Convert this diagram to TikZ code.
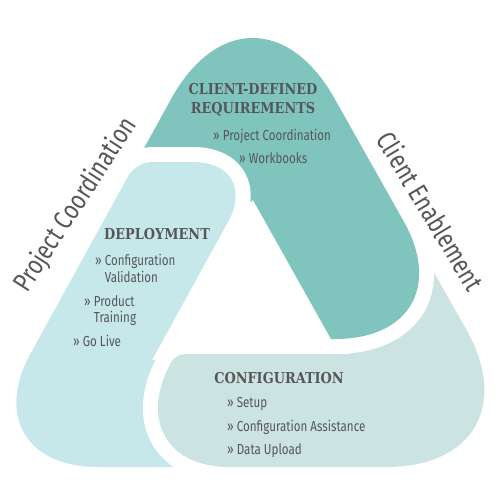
\documentclass[tikz,border=0pt]{standalone}
\usepackage{fontspec}
\newfontfamily\headfont[FakeStretch=0.86]{DejaVu Serif}
\newfontfamily\itemfont[FakeStretch=0.8]{Fira Sans}
\definecolor{tealband}{HTML}{80C4BE}
\definecolor{blueband}{HTML}{C7E8EB}
\definecolor{greyband}{HTML}{CCE4E1}
\definecolor{txtgrey}{HTML}{55565A}
\newcommand\bluepath{(152,162) [rounded corners=68pt] -- (261,162) [sharp corners] -- (152,360) -- (250,360) -- (250,467) [rounded corners=130pt] -- (-32,467) [rounded corners=16pt] -- (136,162) [sharp corners] -- cycle}
\newcommand\tealpath{(99,230) [rounded corners=168pt] -- (252,-48) [rounded corners=135pt] -- (470,339) [sharp corners] -- (331,339) -- (253,200) -- (200,240) -- cycle}
\newcommand\greypath{(260,354) -- (350,354) -- (350,300) -- (410,230) [rounded corners=158pt] -- (544,467) [rounded corners=108pt] -- (121,467) [rounded corners=10pt] -- (175,354) [sharp corners] -- cycle}
\begin{document}
\begin{tikzpicture}[x=1pt, y=-1pt, line join=round,
  gap/.style={preaction={draw=white, line width=30pt}},
  head/.style={text=txtgrey, inner sep=0pt, anchor=north, align=center, font=\headfont\bfseries\fontsize{15}{19}\selectfont},
  item/.style={text=txtgrey, inner sep=0pt, anchor=north west, align=left, font=\itemfont\fontsize{14.5}{16.5}\selectfont},
  side/.style={text=txtgrey, inner sep=0pt, font=\itemfont\fontsize{27}{30}\selectfont}]
\useasboundingbox (0,0) rectangle (500,500);
\fill[blueband] \bluepath;
\fill[greyband, gap] \greypath;
\fill[tealband, gap] \tealpath;
\begin{scope}
  \clip (0,0) rectangle (300,265);
  \fill[blueband, gap] \bluepath;
\end{scope}
\node[head] (req) at (253,83.5) {CLIENT-DEFINED\\REQUIREMENTS};
\node[item] (req1) at (213,129) {» Project Coordination};
\node[item] (req2) at (239,152) {» Workbooks};
\node[head] (dep) at (157,228) {DEPLOYMENT};
\node[item] (dep1) at (95,254) {» Configuration\\\phantom{» }Validation};
\node[item] (dep2) at (84,295) {» Product\\\phantom{» }Training};
\node[item] (dep3) at (73,335) {» Go Live};
\node[head] (conf) at (279,372) {CONFIGURATION};
\node[item] (conf1) at (227,397) {» Setup};
\node[item] (conf2) at (227,420) {» Configuration Assistance};
\node[item] (conf3) at (227,443) {» Data Upload};
\node[side, rotate=57] (pc) at (76,205) {Project Coordination};
\node[side, rotate=-59] (ce) at (431,211) {Client Enablement};
\end{tikzpicture}
\end{document}
